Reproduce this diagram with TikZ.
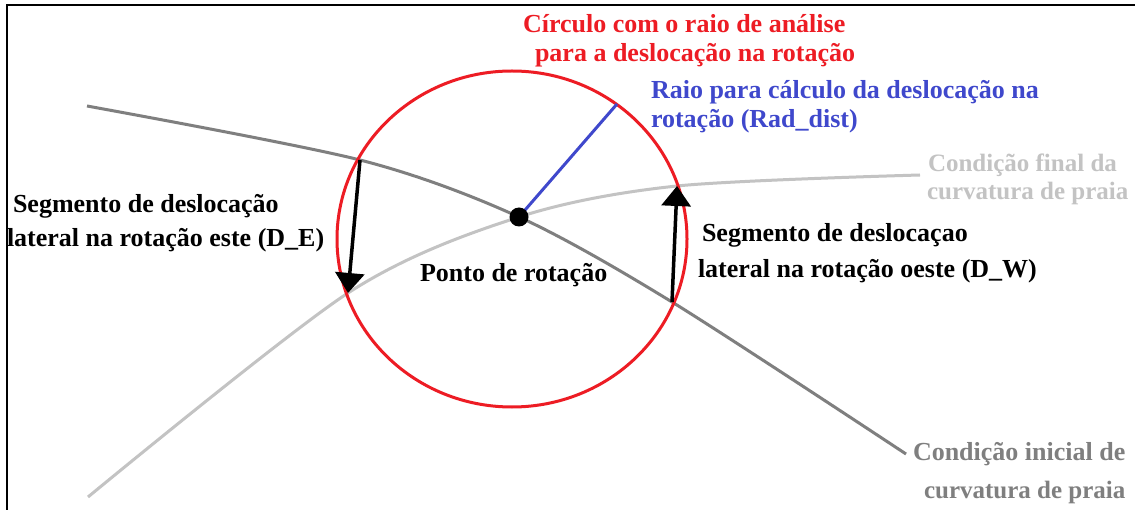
\documentclass[tikz,border=0pt]{standalone}
\usepackage{fontspec}
\setmainfont{Liberation Serif}
\newcommand*{\sketchfont}{\bfseries\fontsize{26}{27}\selectfont}
\newcommand*{\narrowfont}{\bfseries\fontsize{25}{26}\selectfont}
\definecolor{circlered}{RGB}{237,28,36}
\definecolor{radiusblue}{RGB}{63,72,204}
\definecolor{initialgrey}{RGB}{127,127,127}
\definecolor{finalgrey}{RGB}{195,195,195}
\usetikzlibrary{arrows.meta}
\usetikzlibrary{positioning}
\tikzstyle{base}=[x=1pt, y=-1pt, inner sep=0pt, outer sep=0pt]
\tikzstyle{txt}=[inner sep=0pt, anchor=base west, font=\sketchfont]
\tikzstyle{txtnarrow}=[txt, font=\narrowfont]
\tikzstyle{displace}=[black, line width=3.5pt, -{Triangle[width=29pt,length=20pt]}]

\begin{document}
\begin{tikzpicture}[base]
        \path [use as bounding box, fill=white] (0,0) rectangle (1135,510);
        \draw [black, line width=2pt] (7,510) -- (7,5) -- (1135,5);
        \coordinate (eTop) at (360,160);
        \coordinate (eBot) at (348,293);
        \coordinate (wBot) at (672,302);
        \coordinate (wTop) at (677,186);
        \coordinate (radEnd) at (617,104);
        \coordinate (rot) at (519,217);
        \draw [initialgrey, line width=3pt] plot [smooth] coordinates
            {(87,106) (eTop) (rot) (wBot) (906,454)};
        \draw [finalgrey, line width=3pt] plot [smooth] coordinates
            {(88,497) (eBot) (rot) (wTop) (920,175)};
        \draw [circlered, line width=3pt] (512,239) ellipse [x radius=175, y radius=168];
        \draw [radiusblue, line width=3pt] (rot) -- (radEnd);
        \node [circle, fill=black, minimum size=19pt] (dot) at (rot) {};
        \draw [displace] (eTop) -- (eBot);
        \draw [displace] (wBot) -- (wTop);
        \node [txt, circlered] (circA) at (523,33) {Círculo com o raio de análise};
        \node [txt, circlered] (circB) at (535,62) {para a deslocação na rotação};
        \node [txt, radiusblue] (radA) at (651,99) {Raio para cálculo da deslocação na};
        \node [txt, radiusblue] (radB) at (651,128) {rotação (Rad\_dist)};
        \node [txtnarrow, finalgrey] (finA) at (928,172) {Condição final da};
        \node [txtnarrow, finalgrey] (finB) at (927,200) {curvatura de praia};
        \node [txt] (estA) at (13,213) {Segmento de deslocação};
        \node [txt] (estB) at (7,247) {lateral na rotação este (D\_E)};
        \node [txt] (oesA) at (702,242) {Segmento de deslocaçao};
        \node [txt] (oesB) at (698,278) {lateral na rotação oeste (D\_W)};
        \node [txt] (ponto) at (420,282) {Ponto de rotação};
        \node [txt, initialgrey] (iniA) at (913,460) {Condição inicial de};
        \node [txtnarrow, initialgrey] (iniB) at (924,498) {curvatura de praia};
    \end{tikzpicture}
\end{document}
